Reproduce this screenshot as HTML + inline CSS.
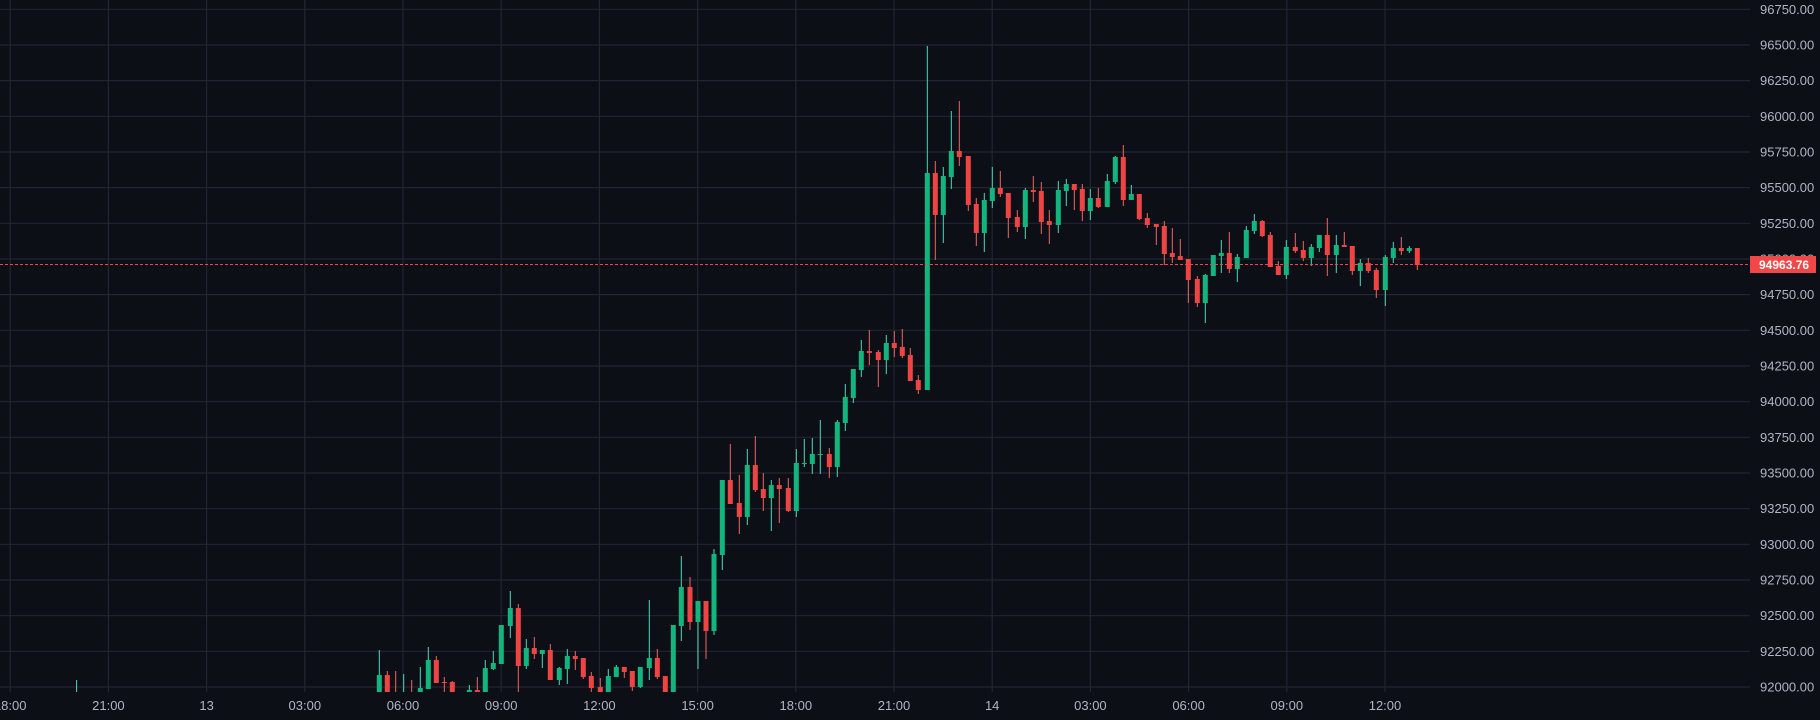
<!DOCTYPE html>
<html><head><meta charset="utf-8"><style>
html,body{margin:0;padding:0;background:#0c0f15;}
svg{display:block}
text{font-family:"Liberation Sans",sans-serif;font-size:13px;fill:#b2b5be}
.g{stroke:#4fd8b6;stroke-width:1}
.r{stroke:#f26565;stroke-width:1}
.gb{fill:#13b57f}
.rb{fill:#ef4444}
</style></head><body>
<svg width="1820" height="720" viewBox="0 0 1820 720" xmlns="http://www.w3.org/2000/svg">
<rect width="1820" height="720" fill="#0c0f15"/>
<g stroke="#222631" stroke-width="1.2">
<path d="M0 9.3H1750M0 45H1750M0 80.6H1750M0 116.3H1750M0 152H1750M0 187.6H1750M0 223.3H1750M0 259H1750M0 294.6H1750M0 330.3H1750M0 366H1750M0 401.7H1750M0 437.3H1750M0 473H1750M0 508.7H1750M0 544.3H1750M0 580H1750M0 615.7H1750M0 651.3H1750M0 687H1750"/>
<path d="M10.2 0V692M108.4 0V692M206.6 0V692M304.8 0V692M403 0V692M501.2 0V692M599.4 0V692M697.6 0V692M795.8 0V692M894 0V692M992.2 0V692M1090.4 0V692M1188.6 0V692M1286.8 0V692M1385 0V692"/>
</g>
<g>
<text x="1760" y="13.8">96750.00</text>
<text x="1760" y="49.5">96500.00</text>
<text x="1760" y="85.1">96250.00</text>
<text x="1760" y="120.8">96000.00</text>
<text x="1760" y="156.5">95750.00</text>
<text x="1760" y="192.1">95500.00</text>
<text x="1760" y="227.8">95250.00</text>
<text x="1760" y="263.5">95000.00</text>
<text x="1760" y="299.1">94750.00</text>
<text x="1760" y="334.8">94500.00</text>
<text x="1760" y="370.5">94250.00</text>
<text x="1760" y="406.2">94000.00</text>
<text x="1760" y="441.8">93750.00</text>
<text x="1760" y="477.5">93500.00</text>
<text x="1760" y="513.2">93250.00</text>
<text x="1760" y="548.8">93000.00</text>
<text x="1760" y="584.5">92750.00</text>
<text x="1760" y="620.2">92500.00</text>
<text x="1760" y="655.8">92250.00</text>
<text x="1760" y="691.5">92000.00</text>
</g>
<g text-anchor="middle">
<text x="10.2" y="710">18:00</text><text x="108.4" y="710">21:00</text><text x="206.6" y="710">13</text>
<text x="304.8" y="710">03:00</text><text x="403" y="710">06:00</text><text x="501.2" y="710">09:00</text>
<text x="599.4" y="710">12:00</text><text x="697.6" y="710">15:00</text><text x="795.8" y="710">18:00</text>
<text x="894" y="710">21:00</text><text x="992.2" y="710">14</text><text x="1090.4" y="710">03:00</text>
<text x="1188.6" y="710">06:00</text><text x="1286.8" y="710">09:00</text><text x="1385" y="710">12:00</text>
</g>
<defs><clipPath id="c"><rect x="0" y="0" width="1750" height="692"/></clipPath></defs>
<g clip-path="url(#c)">
<path class="g" d="M76.6 680V692"/>
<path class="g" d="M379.3 650V692"/><rect class="gb" x="376.8" y="675" width="5" height="17"/>
<path class="r" d="M387.3 671V692"/><rect class="rb" x="384.8" y="675" width="5" height="17"/>
<path class="r" d="M395.7 671V692"/>
<path class="g" d="M403.7 674V692"/>
<path class="r" d="M411.7 680V692"/>
<path class="g" d="M420.3 667V692"/><rect class="gb" x="417.8" y="688" width="5" height="4"/>
<path class="g" d="M428.3 647V689"/><rect class="gb" x="425.8" y="660" width="5" height="29"/>
<path class="r" d="M436.3 656V683"/><rect class="rb" x="433.8" y="660" width="5" height="23"/>
<path class="r" d="M444.3 677V692"/><rect class="rb" x="441.8" y="682" width="5" height="1"/>
<path class="r" d="M452.3 681V692"/><rect class="rb" x="449.8" y="682" width="5" height="10"/>
<path class="g" d="M469.3 685V692"/><rect class="gb" x="466.8" y="690" width="5" height="2"/>
<path class="r" d="M477.3 677V692"/><rect class="rb" x="474.8" y="690" width="5" height="2"/>
<path class="g" d="M485.3 660V692"/><rect class="gb" x="482.8" y="668" width="5" height="24"/>
<path class="g" d="M493.3 651V670"/><rect class="gb" x="490.8" y="663" width="5" height="6"/>
<path class="g" d="M501.3 625V664"/><rect class="gb" x="498.8" y="625" width="5" height="39"/>
<path class="g" d="M510.3 591V638"/><rect class="gb" x="507.8" y="608" width="5" height="18"/>
<path class="r" d="M518.3 604V692"/><rect class="rb" x="515.8" y="608" width="5" height="58"/>
<path class="g" d="M526.3 639V669"/><rect class="gb" x="523.8" y="648" width="5" height="18"/>
<path class="r" d="M534.3 637V659"/><rect class="rb" x="531.8" y="648" width="5" height="6"/>
<path class="g" d="M542.3 650V668"/><rect class="gb" x="539.8" y="650" width="5" height="4"/>
<path class="r" d="M550.3 644V680"/><rect class="rb" x="547.8" y="650" width="5" height="30"/>
<path class="g" d="M559.3 667V685"/><rect class="gb" x="556.8" y="668" width="5" height="12"/>
<path class="g" d="M567.3 649V684"/><rect class="gb" x="564.8" y="656" width="5" height="13"/>
<path class="r" d="M575.3 651V670"/><rect class="rb" x="572.8" y="656" width="5" height="3"/>
<path class="r" d="M583.3 658V679"/><rect class="rb" x="580.8" y="658" width="5" height="19"/>
<path class="r" d="M591.3 672V692"/><rect class="rb" x="588.8" y="676" width="5" height="12"/>
<path class="r" d="M600.3 678V692"/><rect class="rb" x="597.8" y="687" width="5" height="5"/>
<path class="g" d="M608.3 669V692"/><rect class="gb" x="605.8" y="676" width="5" height="16"/>
<path class="g" d="M616.3 665V677"/><rect class="gb" x="613.8" y="667" width="5" height="10"/>
<path class="r" d="M624.3 667V678"/><rect class="rb" x="621.8" y="667" width="5" height="5"/>
<path class="r" d="M632.3 671V691"/><rect class="rb" x="629.8" y="671" width="5" height="16"/>
<path class="g" d="M640.3 667V688"/><rect class="gb" x="637.8" y="667" width="5" height="20"/>
<path class="g" d="M649.3 600V680"/><rect class="gb" x="646.8" y="658" width="5" height="10"/>
<path class="r" d="M657.3 649V679"/><rect class="rb" x="654.8" y="658" width="5" height="19"/>
<path class="r" d="M665.3 676V692"/><rect class="rb" x="662.8" y="676" width="5" height="16"/>
<path class="g" d="M673.3 625V692"/><rect class="gb" x="670.8" y="625" width="5" height="67"/>
<path class="g" d="M681.3 556V641"/><rect class="gb" x="678.8" y="587" width="5" height="39"/>
<path class="r" d="M690 577V630"/><rect class="rb" x="687.5" y="587" width="5" height="35"/>
<path class="g" d="M698 601V669"/><rect class="gb" x="695.5" y="601" width="5" height="21"/>
<path class="r" d="M706 601V659"/><rect class="rb" x="703.5" y="601" width="5" height="30"/>
<path class="g" d="M714 549V635"/><rect class="gb" x="711.5" y="554" width="5" height="77"/>
<path class="g" d="M722.3 480V570"/><rect class="gb" x="719.8" y="480" width="5" height="75"/>
<path class="r" d="M730.3 444V504"/><rect class="rb" x="727.8" y="480" width="5" height="24"/>
<path class="r" d="M739.3 475V534"/><rect class="rb" x="736.8" y="503" width="5" height="14"/>
<path class="g" d="M747.3 449V525"/><rect class="gb" x="744.8" y="465" width="5" height="52"/>
<path class="r" d="M755.3 436V492"/><rect class="rb" x="752.8" y="465" width="5" height="25"/>
<path class="r" d="M763.3 473V511"/><rect class="rb" x="760.8" y="489" width="5" height="9"/>
<path class="g" d="M771.3 480V531"/><rect class="gb" x="768.8" y="485" width="5" height="13"/>
<path class="r" d="M779.3 478V523"/><rect class="rb" x="776.8" y="485" width="5" height="4"/>
<path class="r" d="M788.3 478V512"/><rect class="rb" x="785.8" y="488" width="5" height="23"/>
<path class="g" d="M796.3 449V517"/><rect class="gb" x="793.8" y="463" width="5" height="48"/>
<path class="g" d="M804.3 439V467"/><rect class="gb" x="801.8" y="463" width="5" height="1"/>
<path class="g" d="M812.3 438V474"/><rect class="gb" x="809.8" y="454" width="5" height="10"/>
<path class="g" d="M820.3 420V474"/><rect class="gb" x="817.8" y="454" width="5" height="1"/>
<path class="r" d="M829.3 448V478"/><rect class="rb" x="826.8" y="454" width="5" height="13"/>
<path class="g" d="M837.3 420V477"/><rect class="gb" x="834.8" y="422" width="5" height="45"/>
<path class="g" d="M845.3 384V431"/><rect class="gb" x="842.8" y="397" width="5" height="26"/>
<path class="g" d="M853.3 369V403"/><rect class="gb" x="850.8" y="369" width="5" height="29"/>
<path class="g" d="M861.3 340V377"/><rect class="gb" x="858.8" y="351" width="5" height="19"/>
<path class="r" d="M869.3 330V365"/><rect class="rb" x="866.8" y="351" width="5" height="2"/>
<path class="r" d="M878.3 350V387"/><rect class="rb" x="875.8" y="352" width="5" height="8"/>
<path class="g" d="M886.3 335V374"/><rect class="gb" x="883.8" y="343" width="5" height="17"/>
<path class="r" d="M894.3 331V357"/><rect class="rb" x="891.8" y="343" width="5" height="5"/>
<path class="r" d="M902.3 329V358"/><rect class="rb" x="899.8" y="347" width="5" height="9"/>
<path class="r" d="M910.3 348V381"/><rect class="rb" x="907.8" y="355" width="5" height="26"/>
<path class="r" d="M918.3 375V394"/><rect class="rb" x="915.8" y="380" width="5" height="10"/>
<path class="g" d="M927.3 46V390"/><rect class="gb" x="924.8" y="173" width="5" height="217"/>
<path class="r" d="M935.3 161V260"/><rect class="rb" x="932.8" y="173" width="5" height="42"/>
<path class="g" d="M943.3 167V243"/><rect class="gb" x="940.8" y="176" width="5" height="39"/>
<path class="g" d="M951.3 111V189"/><rect class="gb" x="948.8" y="151" width="5" height="26"/>
<path class="r" d="M959.3 101V166"/><rect class="rb" x="956.8" y="151" width="5" height="6"/>
<path class="r" d="M968.3 156V211"/><rect class="rb" x="965.8" y="156" width="5" height="49"/>
<path class="r" d="M976.3 198V246"/><rect class="rb" x="973.8" y="204" width="5" height="29"/>
<path class="g" d="M984.3 193V252"/><rect class="gb" x="981.8" y="200" width="5" height="33"/>
<path class="g" d="M992.3 167V208"/><rect class="gb" x="989.8" y="188" width="5" height="13"/>
<path class="r" d="M1000.3 171V197"/><rect class="rb" x="997.8" y="188" width="5" height="6"/>
<path class="r" d="M1008.3 193V238"/><rect class="rb" x="1005.8" y="193" width="5" height="25"/>
<path class="r" d="M1017.3 210V232"/><rect class="rb" x="1014.8" y="217" width="5" height="10"/>
<path class="g" d="M1025.3 188V239"/><rect class="gb" x="1022.8" y="190" width="5" height="37"/>
<path class="r" d="M1033.3 176V202"/><rect class="rb" x="1030.8" y="190" width="5" height="2"/>
<path class="r" d="M1041.3 182V234"/><rect class="rb" x="1038.8" y="191" width="5" height="31"/>
<path class="r" d="M1049.3 210V244"/><rect class="rb" x="1046.8" y="221" width="5" height="4"/>
<path class="g" d="M1058.3 181V233"/><rect class="gb" x="1055.8" y="190" width="5" height="35"/>
<path class="g" d="M1066.3 179V206"/><rect class="gb" x="1063.8" y="184" width="5" height="7"/>
<path class="r" d="M1074.3 184V210"/><rect class="rb" x="1071.8" y="184" width="5" height="6"/>
<path class="r" d="M1082.3 184V221"/><rect class="rb" x="1079.8" y="189" width="5" height="22"/>
<path class="g" d="M1090.3 189V220"/><rect class="gb" x="1087.8" y="198" width="5" height="13"/>
<path class="r" d="M1098.3 188V208"/><rect class="rb" x="1095.8" y="198" width="5" height="9"/>
<path class="g" d="M1107.3 174V207"/><rect class="gb" x="1104.8" y="181" width="5" height="26"/>
<path class="g" d="M1115.3 156V184"/><rect class="gb" x="1112.8" y="157" width="5" height="25"/>
<path class="r" d="M1123.3 145V206"/><rect class="rb" x="1120.8" y="157" width="5" height="43"/>
<path class="g" d="M1131.3 185V200"/><rect class="gb" x="1128.8" y="194" width="5" height="6"/>
<path class="r" d="M1139.3 194V220"/><rect class="rb" x="1136.8" y="194" width="5" height="25"/>
<path class="r" d="M1147.3 213V228"/><rect class="rb" x="1144.8" y="218" width="5" height="7"/>
<path class="r" d="M1156.3 224V245"/><rect class="rb" x="1153.8" y="224" width="5" height="3"/>
<path class="r" d="M1164.3 221V265"/><rect class="rb" x="1161.8" y="226" width="5" height="28"/>
<path class="r" d="M1172.3 228V263"/><rect class="rb" x="1169.8" y="253" width="5" height="4"/>
<path class="r" d="M1180.3 239V260"/><rect class="rb" x="1177.8" y="256" width="5" height="4"/>
<path class="r" d="M1188.3 259V303"/><rect class="rb" x="1185.8" y="259" width="5" height="21"/>
<path class="r" d="M1197.3 276V307"/><rect class="rb" x="1194.8" y="279" width="5" height="24"/>
<path class="g" d="M1205.3 274V323"/><rect class="gb" x="1202.8" y="275" width="5" height="28"/>
<path class="g" d="M1213.3 255V276"/><rect class="gb" x="1210.8" y="255" width="5" height="21"/>
<path class="g" d="M1221.3 240V273"/><rect class="gb" x="1218.8" y="253" width="5" height="3"/>
<path class="r" d="M1229.3 232V273"/><rect class="rb" x="1226.8" y="253" width="5" height="16"/>
<path class="g" d="M1237.3 254V282"/><rect class="gb" x="1234.8" y="257" width="5" height="12"/>
<path class="g" d="M1246.3 226V258"/><rect class="gb" x="1243.8" y="230" width="5" height="28"/>
<path class="g" d="M1254.3 214V234"/><rect class="gb" x="1251.8" y="221" width="5" height="10"/>
<path class="r" d="M1262.3 220V237"/><rect class="rb" x="1259.8" y="221" width="5" height="15"/>
<path class="r" d="M1270.3 232V267"/><rect class="rb" x="1267.8" y="235" width="5" height="32"/>
<path class="r" d="M1278.3 261V275"/><rect class="rb" x="1275.8" y="266" width="5" height="9"/>
<path class="g" d="M1286.3 240V279"/><rect class="gb" x="1283.8" y="247" width="5" height="28"/>
<path class="r" d="M1295.3 233V253"/><rect class="rb" x="1292.8" y="247" width="5" height="4"/>
<path class="r" d="M1303.3 241V261"/><rect class="rb" x="1300.8" y="250" width="5" height="8"/>
<path class="g" d="M1311.3 244V266"/><rect class="gb" x="1308.8" y="247" width="5" height="11"/>
<path class="g" d="M1319.3 235V252"/><rect class="gb" x="1316.8" y="235" width="5" height="13"/>
<path class="r" d="M1327.3 218V276"/><rect class="rb" x="1324.8" y="235" width="5" height="20"/>
<path class="g" d="M1336.3 235V273"/><rect class="gb" x="1333.8" y="245" width="5" height="10"/>
<path class="r" d="M1344.3 232V247"/><rect class="rb" x="1341.8" y="245" width="5" height="2"/>
<path class="r" d="M1352.3 246V275"/><rect class="rb" x="1349.8" y="246" width="5" height="25"/>
<path class="g" d="M1360.3 259V286"/><rect class="gb" x="1357.8" y="263" width="5" height="8"/>
<path class="r" d="M1368.3 258V273"/><rect class="rb" x="1365.8" y="263" width="5" height="8"/>
<path class="r" d="M1376.3 268V298"/><rect class="rb" x="1373.8" y="270" width="5" height="20"/>
<path class="g" d="M1385.3 255V306"/><rect class="gb" x="1382.8" y="257" width="5" height="33"/>
<path class="g" d="M1393.3 242V263"/><rect class="gb" x="1390.8" y="248" width="5" height="10"/>
<path class="r" d="M1401.3 237V255"/><rect class="rb" x="1398.8" y="248" width="5" height="3"/>
<path class="g" d="M1409.3 246V253"/><rect class="gb" x="1406.8" y="248" width="5" height="3"/>
<path class="r" d="M1417.3 248V270"/><rect class="rb" x="1414.8" y="248" width="5" height="17"/>
</g>
<path d="M0 264.5H1750" stroke="#f04848" stroke-width="1" stroke-dasharray="3,2"/>
<rect x="1750" y="256" width="66" height="17" fill="#f04848"/>
<text x="1759" y="269" style="fill:#ffffff;font-weight:bold;font-size:12px">94963.76</text>
</svg>
</body></html>
